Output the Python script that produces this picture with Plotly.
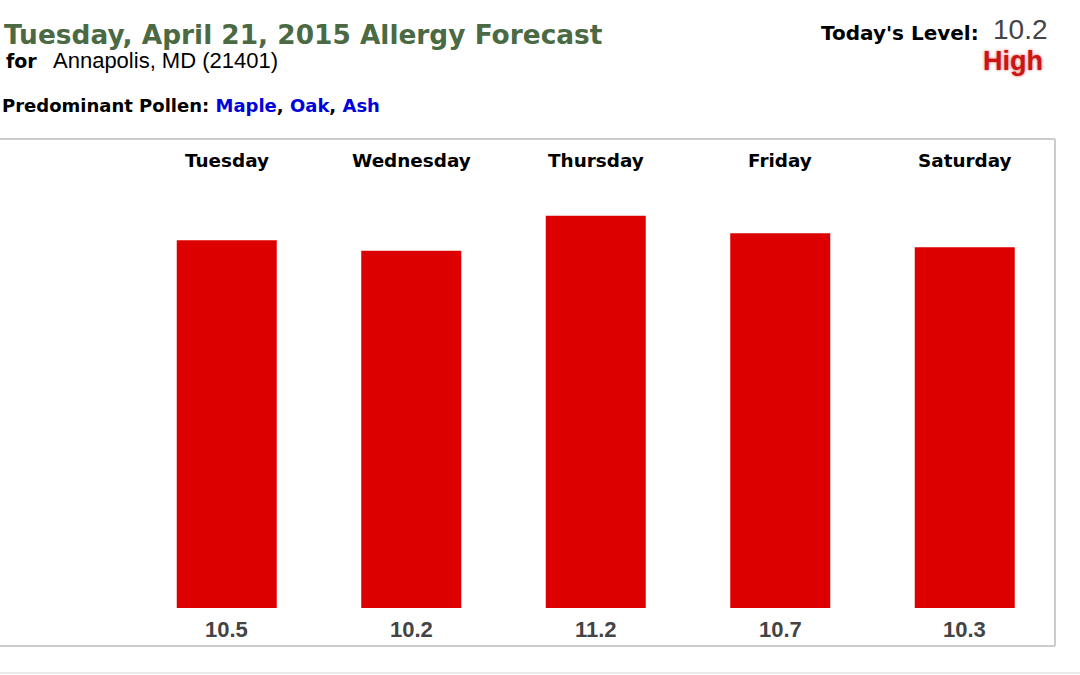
import plotly.graph_objects as go

days = ['Tuesday', 'Wednesday', 'Thursday', 'Friday', 'Saturday']
levels = [10.5, 10.2, 11.2, 10.7, 10.3]
pollens = ['Maple', 'Oak', 'Ash']
today_level = 10.2
today_label = 'High'
city = 'Annapolis, MD (21401)'
title_text = 'Tuesday, April 21, 2015 Allergy Forecast'

W, H = 1080, 675
VERDANA = 'DejaVu Sans, Verdana, sans-serif'
ARIAL = 'Liberation Sans, Arial, sans-serif'


def px(x):
    return x / W


def py(y):
    return 1 - y / H


fig = go.Figure()
fig.add_trace(go.Bar(
    x=days, y=levels,
    marker=dict(color='#dd0000', line=dict(width=0)),
    width=0.542,
    hoverinfo='x+y',
))

ann = []
# day names on top, values below the bars
for d, v in zip(days, levels):
    ann.append(dict(x=d, xref='x', y=py(160), yref='paper', yanchor='middle',
                    text='<b>%s</b>' % d, showarrow=False,
                    font=dict(family=VERDANA, size=18.4, color='#000')))
    ann.append(dict(x=d, xref='x', y=py(629), yref='paper', yanchor='middle',
                    text='<b>%.1f</b>' % v, showarrow=False,
                    font=dict(family=ARIAL, size=22, color='#444')))

ann.append(dict(x=px(2), y=py(34), xref='paper', yref='paper', xanchor='left', yanchor='middle',
                text='<b>%s</b>' % title_text, showarrow=False,
                font=dict(family=VERDANA, size=26.4, color='#4b6a43')))
ann.append(dict(x=px(4), y=py(61), xref='paper', yref='paper', xanchor='left', yanchor='middle',
                text='<b>for</b>', showarrow=False,
                font=dict(family=VERDANA, size=19, color='#000')))
ann.append(dict(x=px(51), y=py(61), xref='paper', yref='paper', xanchor='left', yanchor='middle',
                text=city, showarrow=False,
                font=dict(family=ARIAL, size=22, color='#000')))
pollen_txt = ', '.join('<span style="color:#0000dd">%s</span>' % p for p in pollens)
ann.append(dict(x=px(0), y=py(105), xref='paper', yref='paper', xanchor='left', yanchor='middle',
                text='<b>Predominant Pollen: ' + pollen_txt + '</b>', showarrow=False,
                font=dict(family=VERDANA, size=18, color='#000')))
ann.append(dict(x=px(981), y=py(33), xref='paper', yref='paper', xanchor='right', yanchor='middle',
                text="<b>Today's Level:</b>", showarrow=False,
                font=dict(family=VERDANA, size=20, color='#000')))
ann.append(dict(x=px(1020), y=py(29), xref='paper', yref='paper', xanchor='center', yanchor='middle',
                text='%.1f' % today_level, showarrow=False,
                font=dict(family=ARIAL, size=28, color='#444')))
ann.append(dict(x=px(1013), y=py(61), xref='paper', yref='paper', xanchor='center', yanchor='middle',
                text='<b>%s</b>' % today_label, showarrow=False,
                font=dict(family=ARIAL, size=27, color='#cc1414',
                          shadow='0px 0px 3px rgba(204,20,20,0.7)')))

# frame around the chart: its left side lies off the page
box_line = dict(color='#cccccc', width=2)
shapes = [
    dict(type='line', xref='paper', yref='paper', x0=0, x1=px(1055), y0=py(139), y1=py(139), line=box_line),
    dict(type='line', xref='paper', yref='paper', x0=px(1055), x1=px(1055), y0=py(139), y1=py(646), line=box_line),
    dict(type='line', xref='paper', yref='paper', x0=0, x1=px(1055), y0=py(646), y1=py(646), line=box_line),
    dict(type='line', xref='paper', yref='paper', x0=0, x1=1, y0=py(673), y1=py(673),
         line=dict(color='#e2e2e2', width=1.5)),
]

fig.update_layout(
    width=W, height=H,
    margin=dict(l=0, r=0, t=0, b=0),
    paper_bgcolor='white', plot_bgcolor='white',
    showlegend=False,
    xaxis=dict(domain=[px(134.5), px(1057)], range=[-0.5, 4.5], showticklabels=False,
               showgrid=False, zeroline=False, showline=False, fixedrange=True),
    yaxis=dict(domain=[py(608), py(187.6)], range=[0, 12], showticklabels=False,
               showgrid=False, zeroline=False, showline=False, fixedrange=True),
    annotations=ann,
    shapes=shapes,
)

fig.write_html('out.html', config={'displayModeBar': False},
               post_script="document.body.style.margin='0';document.body.style.overflow='hidden';")
